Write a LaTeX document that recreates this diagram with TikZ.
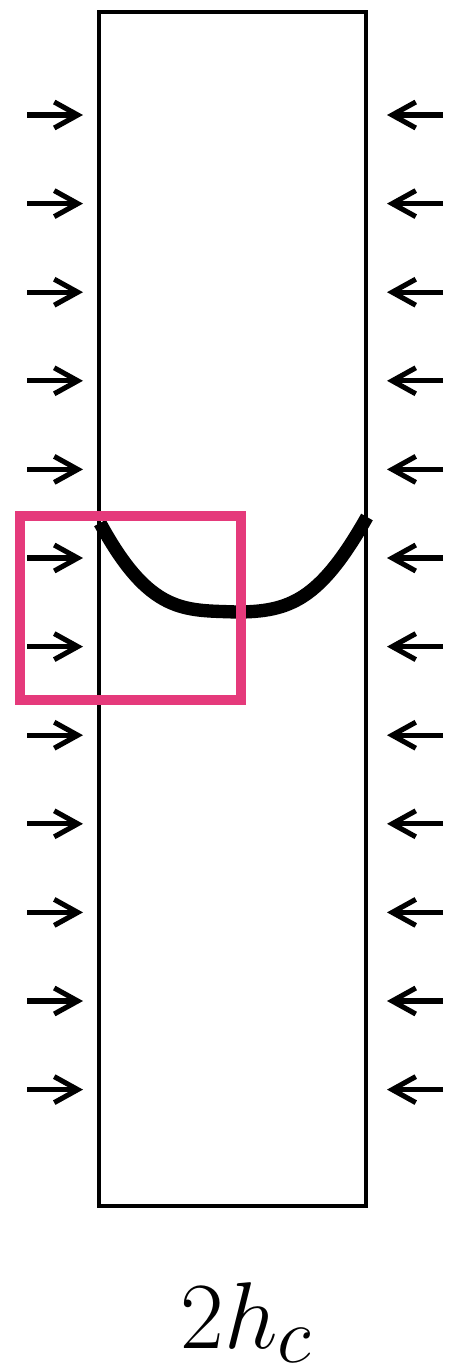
\documentclass[tikz,border=0pt]{standalone}
\usetikzlibrary{arrows.meta}
\definecolor{hlpink}{RGB}{229,58,123}

\begin{document}
\begin{tikzpicture}[x=0.02cm, y=-0.02cm,
  >={Straight Barb[length=0.47cm,width=0.52cm]},
  load/.style={->, line width=2.9pt}]

\useasboundingbox (0,0) rectangle (462,1369);

%--------------------
% Column (plate)
%--------------------
\coordinate (colTL) at (99,12);
\coordinate (colBR) at (366,1206);
\draw[line width=2.8pt] (colTL) rectangle (colBR);

%--------------------
% Lateral loads on both sides
%--------------------
\foreach \i in {0,...,11}{
  \pgfmathsetmacro\yy{115+88.6*\i}
  \draw[load] (27,\yy) -- (83,\yy);
  \draw[load] (443,\yy) -- (387,\yy);
}

%--------------------
% Deflected shape and highlight box
%--------------------
\draw[line width=7.6pt] (100,523) .. controls (150,615) and (185,610) .. (236,612)
  .. controls (290,612) and (320,600) .. (367,517);
\draw[hlpink, line width=5.3pt] (20,516) rectangle (241,700);

% Width label
\node[anchor=base, inner sep=0pt, font=\Huge, scale=2.17, transform shape] (width) at (247,1348) {$2h_c$};

\end{tikzpicture}
\end{document}
